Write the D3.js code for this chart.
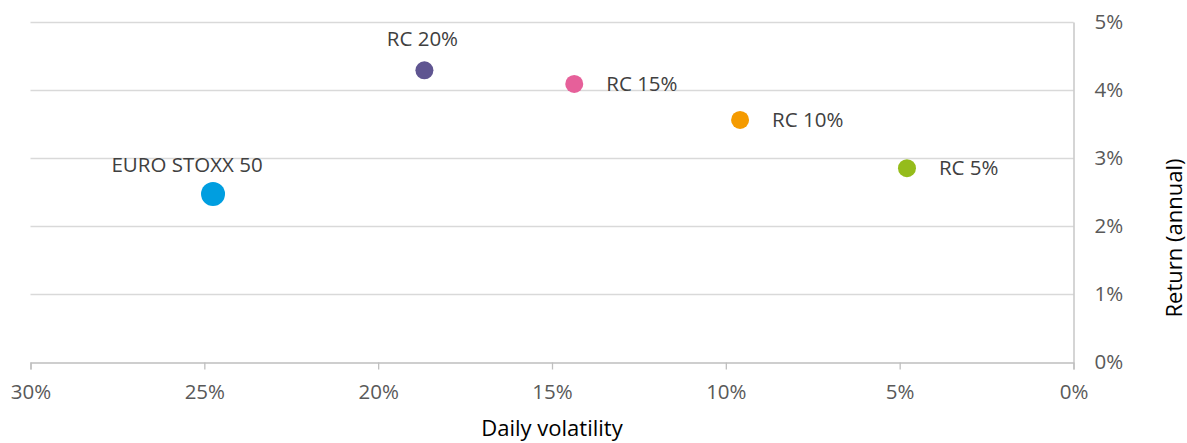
<!DOCTYPE html>
<html>
<head>
<meta charset="utf-8">
<script src="https://cdn.jsdelivr.net/npm/d3@7/dist/d3.min.js"></script>
<style>
  html, body { margin: 0; padding: 0; background: #fff; }
  svg text { font-family: "Open Sans", "Noto Sans", sans-serif; }
</style>
</head>
<body>
<svg id="chart" width="1187" height="443"></svg>
<script>
// Risk/return data: daily volatility (%) vs annual return (%)
const names      = ["EURO STOXX 50", "RC 20%", "RC 15%", "RC 10%", "RC 5%"];
const volatility = [24.75, 18.67, 14.36, 9.59, 4.79];
const returns    = [2.47, 4.29, 4.09, 3.56, 2.85];
const colors     = ["#009EE0", "#5F5591", "#E6609A", "#F59B00", "#95BC1B"];
const labelSide  = ["above", "above", "right", "right", "right"];
const xTicks     = [30, 25, 20, 15, 10, 5, 0];
const yTicks     = [0, 1, 2, 3, 4, 5];

const svg = d3.select("#chart");
const plotLeft = 30.5, plotRight = 1073.5, plotTop = 22, plotBottom = 362;
const labelSize = 20.5, titleSize = 22;

// Volatility axis runs from 30% on the left to 0% on the right
const x = d3.scaleLinear().domain([30, 0]).range([plotLeft, plotRight]);
const y = d3.scaleLinear().domain([0, 5]).range([plotBottom, plotTop]);

// Horizontal gridlines
svg.append("g")
  .selectAll("line")
  .data(yTicks.filter(d => d > 0))
  .join("line")
  .attr("x1", plotLeft).attr("x2", plotRight)
  .attr("y1", d => Math.round(y(d)) + 0.5).attr("y2", d => Math.round(y(d)) + 0.5)
  .attr("stroke", "#D9D9D9").attr("stroke-width", 1.3);

// Bottom axis
const xAxis = svg.append("g")
  .attr("transform", `translate(0,${plotBottom + 0.5})`)
  .call(d3.axisBottom(x).tickValues(xTicks).tickFormat(d => d + "%").tickSize(7).tickPadding(15));
xAxis.select(".domain").attr("stroke", "#BFBFBF").attr("stroke-width", 1.3);
xAxis.selectAll(".tick line").attr("stroke", "#BFBFBF").attr("stroke-width", 1.3);
xAxis.selectAll(".tick text").attr("fill", "#595959").attr("font-size", labelSize)
  .style("font-family", "'Open Sans', sans-serif");

// Right axis
const yAxis = svg.append("g")
  .attr("transform", `translate(${plotRight},0)`)
  .call(d3.axisRight(y).tickValues(yTicks).tickFormat(d => d + "%").tickSize(0).tickPadding(21));
yAxis.select(".domain").attr("stroke", "#BFBFBF").attr("stroke-width", 1.3);
yAxis.selectAll(".tick text").attr("fill", "#595959").attr("font-size", labelSize)
  .style("font-family", "'Open Sans', sans-serif");

// Axis titles
svg.append("text")
  .attr("x", 552).attr("y", 436)
  .attr("text-anchor", "middle")
  .attr("fill", "#000").attr("font-size", titleSize)
  .text("Daily volatility");

svg.append("text")
  .attr("transform", "translate(1182,238) rotate(-90)")
  .attr("text-anchor", "middle")
  .attr("fill", "#000").attr("font-size", titleSize)
  .text("Return (annual)");

// Markers
const pts = names.map((n, i) => ({ name: n, v: volatility[i], r: returns[i], c: colors[i], side: labelSide[i], idx: i }));

svg.append("g")
  .selectAll("circle")
  .data(pts)
  .join("circle")
  .attr("cx", d => x(d.v))
  .attr("cy", d => y(d.r))
  .attr("r", d => d.idx === 0 ? 12 : 9)
  .attr("fill", d => d.c);

// Point labels
svg.append("g")
  .selectAll("text")
  .data(pts)
  .join("text")
  .attr("x", d => d.side === "right" ? x(d.v) + 32 : x(d.v) + (d.idx === 0 ? -26 : -2))
  .attr("y", d => d.side === "right" ? y(d.r) : y(d.r) - (d.idx === 0 ? 29 : 31))
  .attr("dy", "0.35em")
  .attr("text-anchor", d => d.side === "right" ? "start" : "middle")
  .attr("fill", "#404040")
  .attr("font-size", labelSize)
  .text(d => d.name);
</script>
</body>
</html>
